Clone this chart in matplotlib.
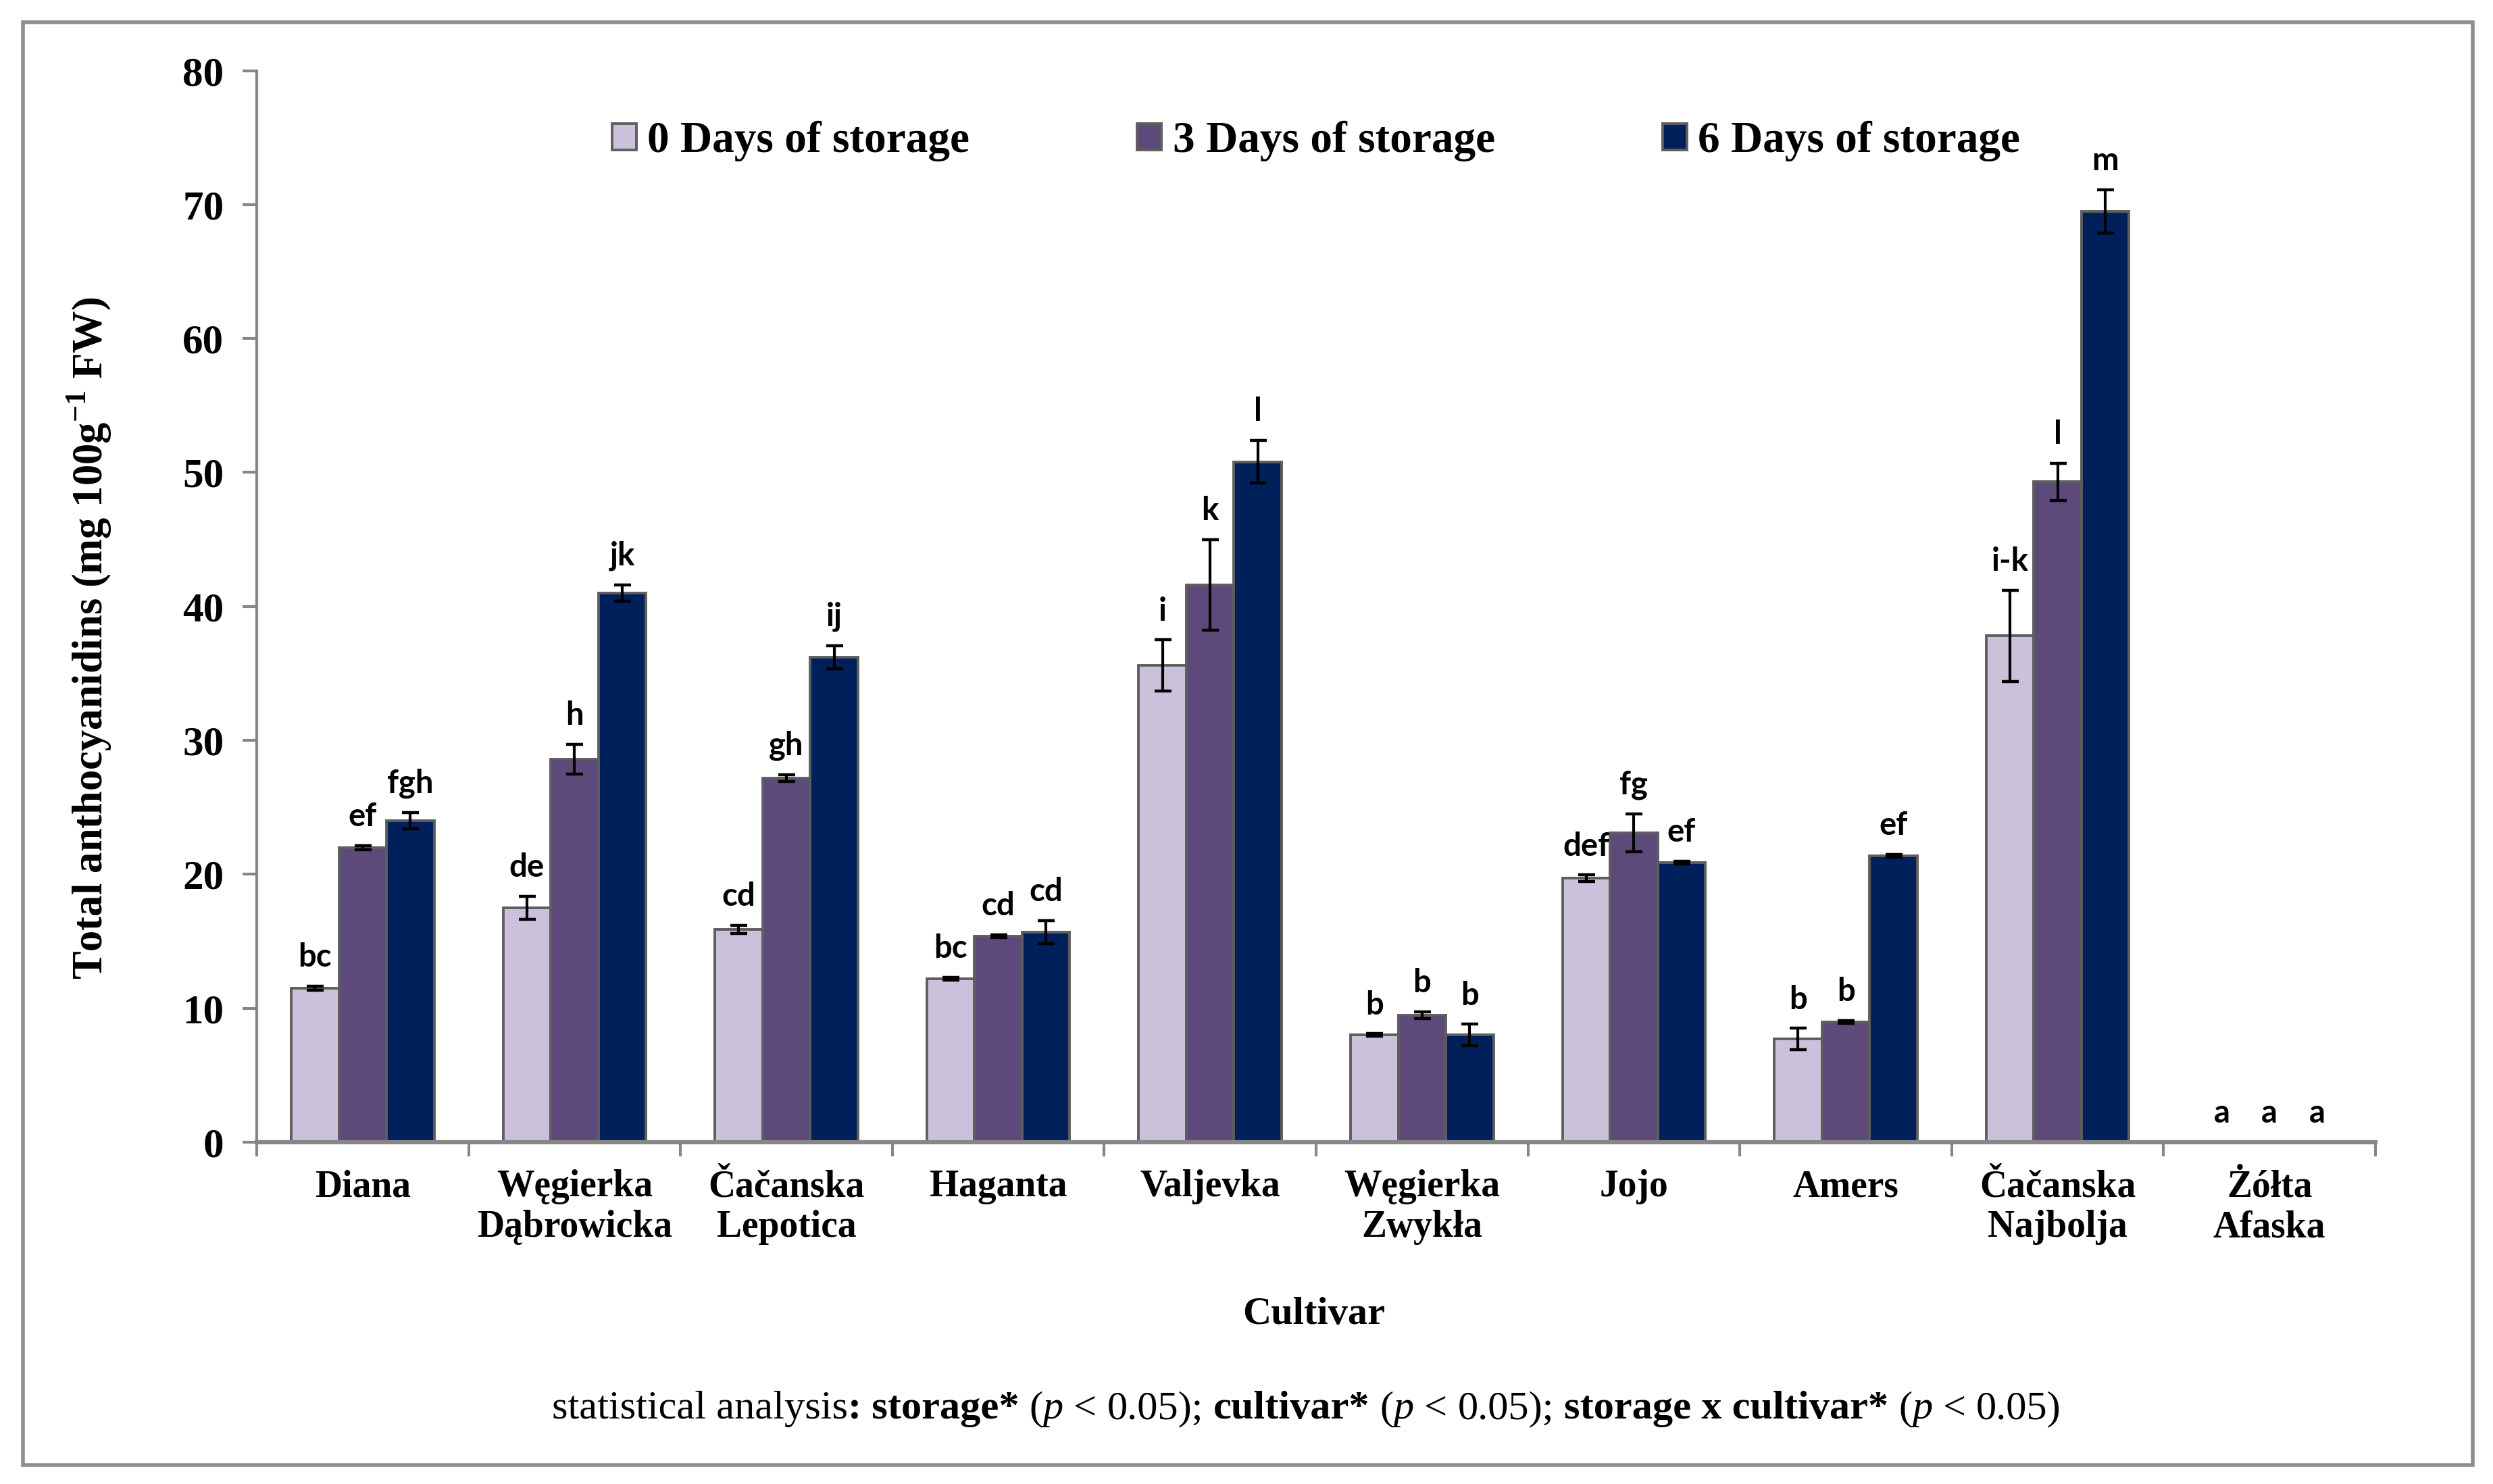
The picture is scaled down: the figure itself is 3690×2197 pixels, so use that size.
import matplotlib
matplotlib.use('Agg')
import matplotlib.pyplot as plt
import numpy as np
from matplotlib.patches import Rectangle

# ---------------- data ----------------
cultivars = ["Diana", "Węgierka\nDąbrowicka", "Čačanska\nLepotica", "Haganta", "Valjevka",
             "Węgierka\nZwykła", "Jojo", "Amers", "Čačanska\nNajbolja", "Żółta\nAfaska"]
series_names = ["0 Days of storage", "3 Days of storage", "6 Days of storage"]
day0 = [11.5, 17.5, 15.9, 12.2, 35.6, 8.0, 19.7, 7.7, 37.8, 0.0]
day3 = [22.0, 28.6, 27.2, 15.4, 41.6, 9.5, 23.1, 9.0, 49.3, 0.0]
day6 = [24.0, 41.0, 36.2, 15.7, 50.8, 8.0, 20.9, 21.4, 69.5, 0.0]
err0 = [0.15, 0.85, 0.3, 0.1, 1.9, 0.1, 0.25, 0.8, 3.4, 0.0]
err3 = [0.15, 1.1, 0.25, 0.1, 3.4, 0.25, 1.4, 0.1, 1.4, 0.0]
err6 = [0.6, 0.6, 0.85, 0.85, 1.6, 0.8, 0.1, 0.1, 1.6, 0.0]
letters0 = ["bc", "de", "cd", "bc", "i", "b", "def", "b", "i-k", "a"]
letters3 = ["ef", "h", "gh", "cd", "k", "b", "fg", "b", "l", "a"]
letters6 = ["fgh", "jk", "ij", "cd", "l", "b", "ef", "ef", "m", "a"]
yticks = [0, 10, 20, 30, 40, 50, 60, 70, 80]

colors = ["#CBC1DA", "#5E4A7A", "#00205C"]
edge = "#5E5E5E"
axis_gray = "#878787"
SERIF = "Liberation Serif"

plt.rcParams["mathtext.fontset"] = "custom"
plt.rcParams["mathtext.bf"] = "Liberation Serif:bold"
plt.rcParams["mathtext.rm"] = "Liberation Serif:bold"

W, H = 3691, 2197
DPI = 100
fig = plt.figure(figsize=(W / DPI, H / DPI), dpi=DPI)
fig.patch.set_facecolor("white")

# outer frame
fig.add_artist(Rectangle((34 / W, 1 - 2169 / H), (3660 - 34) / W, (2169 - 33) / H,
                         transform=fig.transFigure, fill=False, edgecolor="#8E8E8E", lw=4))

ax = fig.add_axes([380 / W, 1 - 1691 / H, (3516 - 380) / W, (1691 - 104.6) / H])

x = np.arange(len(cultivars))
bw = 0.225
offs = [-bw, 0, bw]
vals = [day0, day3, day6]
errs = [err0, err3, err6]
lets = [letters0, letters3, letters6]

handles = []
for i in range(3):
    b = ax.bar(x + offs[i], vals[i], width=bw, color=colors[i], edgecolor=edge, lw=2.8,
               label=series_names[i], zorder=2)
    handles.append(b)
    v = np.array(vals[i])
    e = np.array(errs[i])
    m = v > 0
    ax.errorbar((x + offs[i])[m], v[m], yerr=e[m], fmt="none", ecolor="black",
                elinewidth=3, capsize=9, capthick=3.2, zorder=3)
    for xi, vi, ei, lt in zip(x + offs[i], v, e, lets[i]):
        ax.annotate(lt, (xi, vi + ei), xytext=(0, 15), textcoords="offset points",
                    ha="center", va="bottom", fontsize=34, fontweight="bold",
                    family="Lato", color="black", zorder=4)

ax.set_xlim(-0.5, len(cultivars) - 0.5)
ax.set_ylim(0, 80)
ax.set_yticks(yticks)
ax.set_yticklabels([str(t) for t in yticks], fontsize=44, fontweight="bold", family=SERIF)
ax.set_xticks(x)
ax.set_xticklabels(cultivars, fontsize=40, fontweight="bold", family=SERIF, linespacing=1.2)
ax.set_xticks(np.arange(-0.5, len(cultivars)), minor=True)
ax.tick_params(axis="x", which="major", length=0, pad=29)
ax.tick_params(axis="x", which="minor", length=15, width=3, color=axis_gray, direction="out")
ax.tick_params(axis="y", which="major", length=15, width=3, color=axis_gray, direction="out", pad=20)

for s in ["top", "right"]:
    ax.spines[s].set_visible(False)
ax.spines["left"].set_color(axis_gray)
ax.spines["left"].set_linewidth(3)
ax.spines["bottom"].set_color(axis_gray)
ax.spines["bottom"].set_linewidth(4.5)
ax.spines["bottom"].set_zorder(5)

# y label
fig.text(132 / W, 1 - 945 / H, r"Total anthocyanidins (mg 100g$^{\mathbf{-1}}$ FW)",
         rotation=90, ha="center", va="center", fontsize=45, fontweight="bold", family=SERIF)

# x label
fig.text(1945 / W, 1 - 1946 / H, "Cultivar", ha="center", va="center",
         fontsize=42, fontweight="bold", family=SERIF)

# legend
leg = ax.legend(handles=handles, loc="center", bbox_to_anchor=(0.5, 0.934), ncol=3,
                frameon=False, prop={"family": SERIF, "weight": "bold", "size": 47},
                handlelength=0.55, handleheight=0.55, handletextpad=0.25, columnspacing=3.8)

# bottom rich text
fig.canvas.draw()
renderer = fig.canvas.get_renderer()
SIZE = 43.5
N, B, I = ("normal", "normal"), ("bold", "normal"), ("normal", "italic")
SP = None
pieces = [("statistical analysis", N), (": storage*", B), SP, ("(", N), ("p", I), SP, ("<", N), SP,
          ("0.05);", N), SP, ("cultivar*", B), SP, ("(", N), ("p", I), SP, ("<", N), SP,
          ("0.05);", N), SP, ("storage x cultivar*", B), SP, ("(", N), ("p", I), SP, ("<", N), SP,
          ("0.05)", N)]


def tw(s, st):
    t = fig.text(0, 0, s, fontsize=SIZE, fontweight=st[0], fontstyle=st[1], family=SERIF)
    w = t.get_window_extent(renderer).width
    t.remove()
    return w


space_w = tw("n n", N) - tw("nn", N)
widths = [space_w if p is None else tw(p[0], p[1]) for p in pieces]
total = sum(widths)
cx, base = 1934, 2100
xpos = cx - total / 2
for p, w in zip(pieces, widths):
    if p is not None:
        fig.text(xpos / W, 1 - base / H, p[0], fontsize=SIZE, fontweight=p[1][0],
                 fontstyle=p[1][1], family=SERIF, ha="left", va="baseline")
    xpos += w

fig.savefig("out.png", dpi=DPI, facecolor="white")
